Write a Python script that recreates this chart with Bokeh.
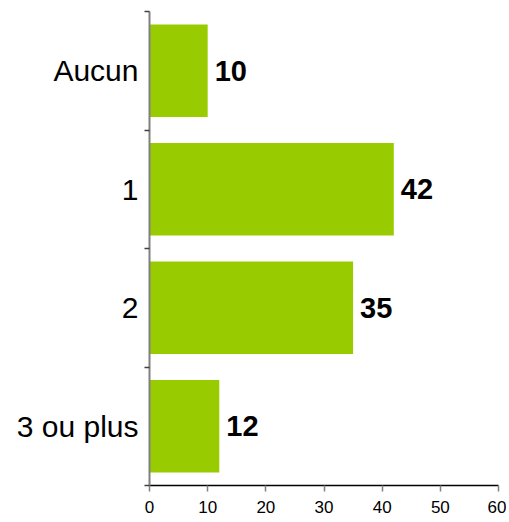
from bokeh.plotting import figure
from bokeh.models import ColumnDataSource, FixedTicker, Range1d, LabelSet
from bokeh.core.properties import value
from bokeh.embed import file_html
from bokeh.resources import INLINE

categories = ["Aucun", "1", "2", "3 ou plus"]
values = [10, 42, 35, 12]
x_ticks = [0, 10, 20, 30, 40, 50, 60]

n = len(categories)
ypos = [n - i - 0.5 for i in range(n)]
src = ColumnDataSource(dict(y=ypos, v=values, lab=[str(v) for v in values]))

p = figure(frame_width=349, frame_height=474, min_border_left=149, min_border_top=11,
           min_border_right=8, min_border_bottom=0, x_range=Range1d(0, 60), y_range=Range1d(0, n),
           output_backend="svg", toolbar_location=None)
p.outline_line_color = None
p.grid.visible = False
p.background_fill_color = "white"

p.hbar(y="y", right="v", left=0, height=0.78, source=src, fill_color="#99CC00", line_color=None)

labels = LabelSet(x="v", y="y", text="lab", source=src, x_offset=7, text_baseline="middle",
                  text_font=value("Liberation Sans"), text_font_style="bold",
                  text_font_size=value("29px"), text_color="black")
p.add_layout(labels)

# x axis
xa = p.xaxis[0]
xa.ticker = FixedTicker(ticks=x_ticks)
xa.axis_line_color = "black"
xa.axis_line_width = 1.5
xa.major_tick_line_color = "#808080"
xa.major_tick_line_width = 1.5
xa.major_tick_in = 0
xa.major_tick_out = 6
xa.minor_tick_line_color = None
xa.major_label_text_font = "Liberation Sans"
xa.major_label_text_font_size = "17px"
xa.major_label_text_color = "black"
xa.major_label_standoff = 9

# y axis
ya = p.yaxis[0]
ya.ticker = FixedTicker(ticks=ypos, minor_ticks=list(range(n + 1)))
ya.major_label_overrides = {y: c for y, c in zip(ypos, categories)}
ya.axis_line_color = "#808080"
ya.axis_line_width = 2
ya.major_tick_line_color = None
ya.minor_tick_line_color = "#404040"
ya.minor_tick_line_width = 1.5
ya.minor_tick_in = 0
ya.minor_tick_out = 5
ya.major_label_text_font = "Liberation Sans"
ya.major_label_text_font_size = "30px"
ya.major_label_text_color = "black"
ya.major_label_standoff = 5

open("out.html", "w").write(file_html(p, INLINE))
